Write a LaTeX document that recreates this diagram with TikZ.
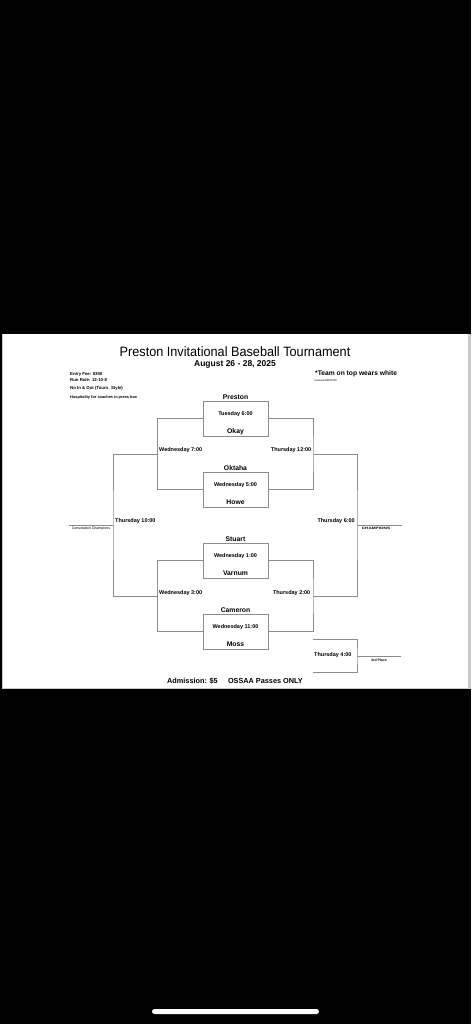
\documentclass[tikz,border=0pt]{standalone}
\usepackage{fontspec}
\setmainfont{Liberation Sans}
\newcommand\myfs[1]{\fontsize{#1}{#1}\selectfont}
\definecolor{linegray}{RGB}{140,140,140}
\definecolor{edgegray}{RGB}{200,200,200}
\tikzset{
  bline/.style={draw=linegray, line width=0.8pt},
  matchbox/.style={bline, minimum width=65pt, minimum height=35pt, inner sep=0pt},
  team/.style={font=\bfseries\myfs{6.8}, anchor=base, inner sep=0pt},
  gametime/.style={font=\bfseries\myfs{5.5}, anchor=base, inner sep=0pt},
  infotext/.style={font=\bfseries\myfs{4.3}, anchor=base west, inner sep=0pt},
  tinytext/.style={font=\myfs{3.6}, anchor=base, inner sep=0pt},
}
\begin{document}
\begin{tikzpicture}[x=1pt,y=-1pt]
\useasboundingbox (0,0) rectangle (471,1024);
\fill[black] (0,0) rectangle (471,1024);
% screenshot page
\fill[edgegray] (1.5,334) rectangle (471,689);
\fill[white] (3,334) rectangle (468,687.5);
% home indicator
\fill[white, rounded corners=2.5pt] (152,1009) rectangle (319,1014);

% title block
\node[font=\myfs{13.5}, xscale=0.94, anchor=base, inner sep=0pt] (title) at (235,356.5) {Preston Invitational Baseball Tournament};
\node[font=\bfseries\myfs{8.5}, anchor=base, inner sep=0pt] (dates) at (235,366) {August 26 - 28, 2025};
\node[infotext] (fee) at (70,375.3) {Entry Fee: \$350};
\node[infotext] (rule) at (70,381.7) {Run Rule: 12-10-8};
\node[infotext] (inout) at (70,389) {No In \& Out (Tourn. Style)};
\node[font=\bfseries\myfs{3.9}, anchor=base west, inner sep=0pt] (hosp) at (70,398.3) {Hospitality for coaches in press box};
\node[font=\bfseries\myfs{6.7}, anchor=base west, inner sep=0pt] (white) at (315,375.3) {*Team on top wears white};
\node[font=\myfs{2.8}, anchor=base west, inner sep=0pt] (rev) at (314.5,381.7) {revised 8/26/2025};

% first-round boxes
\node[matchbox] (m1) at (235.5,418.5) {};
\node[matchbox] (m2) at (235.5,489.5) {};
\node[matchbox] (m3) at (235.5,560.5) {};
\node[matchbox] (m4) at (235.5,631.5) {};

\node[team] (preston) at (235.5,399) {Preston};
\node[gametime] (g1) at (235.5,415.5) {Tuesday 6:00};
\node[team] (okay) at (235.5,433) {Okay};

\node[team] (oktaha) at (235.5,470) {Oktaha};
\node[gametime] (g2) at (235.5,486.5) {Wednesday 5:00};
\node[team] (howe) at (235.5,504) {Howe};

\node[team] (stuart) at (235.5,541) {Stuart};
\node[gametime] (g3) at (235.5,557.5) {Wednesday 1:00};
\node[team] (varnum) at (235.5,575) {Varnum};

\node[team] (cameron) at (235.5,612) {Cameron};
\node[gametime] (g4) at (235.5,628.5) {Wednesday 11:00};
\node[team] (moss) at (235.5,646) {Moss};

% bracket joints
\coordinate (w7) at (157.5,454);
\coordinate (w3) at (157.5,596);
\coordinate (t12) at (313,454);
\coordinate (t2) at (313,596);
\coordinate (t10) at (113,525);
\coordinate (t6) at (357,525);
\coordinate (cons) at (69,525);
\coordinate (champ) at (402,525);
\coordinate (t4tl) at (313,639);
\coordinate (t4r) at (357,656);
\coordinate (t4bl) at (313,672);
\coordinate (third) at (401,656);

\draw[bline] (m1.west) -| (w7) |- (m2.west);
\draw[bline] (m3.west) -| (w3) |- (m4.west);
\draw[bline] (m1.east) -| (t12) |- (m2.east);
\draw[bline] (m3.east) -| (t2) |- (m4.east);
\draw[bline] (w7) -| (t10) |- (w3);
\draw[bline] (t12) -| (t6) |- (t2);
\draw[bline] (cons) -- (t10);
\draw[bline] (t6) -- (champ);
\draw[bline] (t4tl) -| (t4r) |- (t4bl);
\draw[bline] (t4r) -- (third);

% game labels
\node[gametime, anchor=base west] (lw7) at (159,451.5) {Wednesday 7:00};
\node[gametime, anchor=base west] (lw3) at (159,594) {Wednesday 3:00};
\node[gametime, anchor=base west] (lt10) at (115,522) {Thursday 10:00};
\node[gametime, anchor=base east] (lt12) at (311.5,451.5) {Thursday 12:00};
\node[gametime, anchor=base east] (lt2) at (310.5,594) {Thursday 2:00};
\node[gametime, anchor=base east] (lt6) at (355,522) {Thursday 6:00};
\node[gametime, anchor=base west] (lt4) at (314,656) {Thursday 4:00};

\node[tinytext] (lcons) at (91,529.7) {Consolation Champions};
\node[tinytext, font=\bfseries\myfs{3.3}, xscale=1.4] (lchamp) at (376,529.5) {CHAMPIONS};
\node[tinytext, font=\bfseries\myfs{3.5}] (lthird) at (379,661.3) {3rd Place};

% footer
\node[font=\bfseries\myfs{7.3}, anchor=base west, inner sep=0pt] (adm) at (167,683) {Admission: \$5};
\node[font=\bfseries\myfs{7.3}, anchor=base east, inner sep=0pt] (pass) at (303,683) {OSSAA Passes ONLY};
\end{tikzpicture}
\end{document}
